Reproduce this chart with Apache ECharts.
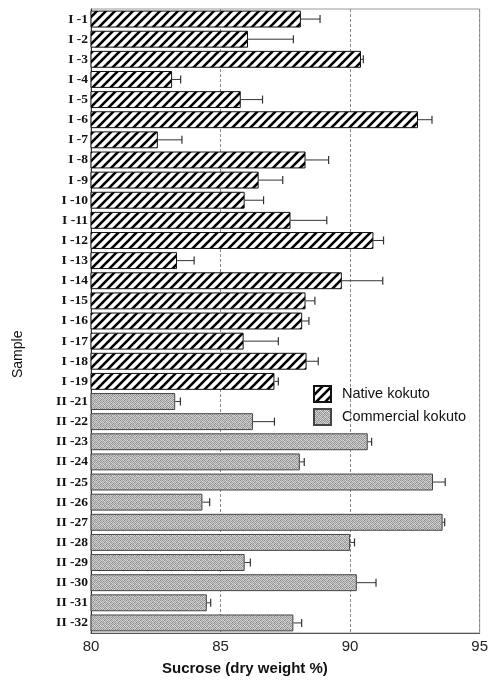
<!DOCTYPE html>
<html>
<head>
<meta charset="utf-8">
<script src="https://cdn.jsdelivr.net/npm/echarts@6/dist/echarts.min.js"></script>
<style>
  html, body { margin: 0; padding: 0; background: #fff; }
  #chart { width: 491px; height: 685px; }
</style>
</head>
<body>
<div id="chart"></div>
<script>
// Sample names: native kokuto (I) and commercial kokuto (II)
var nativeSamples = ['I -1','I -2','I -3','I -4','I -5','I -6','I -7','I -8','I -9','I -10',
  'I -11','I -12','I -13','I -14','I -15','I -16','I -17','I -18','I -19'];
var commercialSamples = ['II -21','II -22','II -23','II -24','II -25','II -26','II -27',
  'II -28','II -29','II -30','II -31','II -32'];

// Sucrose content, dry weight %
var nativeMeans = [88.10, 86.06, 90.42, 83.13, 85.78, 92.62, 82.58, 88.28, 86.47, 85.93,
  87.70, 90.90, 83.32, 89.68, 88.28, 88.15, 85.89, 88.32, 87.08];
var nativeErrors = [0.74, 1.75, 0.09, 0.33, 0.84, 0.54, 0.93, 0.89, 0.93, 0.73,
  1.40, 0.39, 0.66, 1.58, 0.36, 0.26, 1.34, 0.45, 0.15];
var commercialMeans = [83.25, 86.25, 90.68, 88.06, 93.20, 84.30, 93.57, 90.00, 85.93, 90.26, 84.47, 87.81];
var commercialErrors = [0.20, 0.83, 0.15, 0.17, 0.47, 0.28, 0.08, 0.17, 0.22, 0.74, 0.15, 0.32];

var xTicks = [80, 85, 90, 95];

var categories = nativeSamples.concat(commercialSamples);

// Diagonal hatch tile for the native bars
function hatchPattern() {
  var s = 9;
  var c = document.createElement('canvas');
  c.width = s; c.height = s;
  var g = c.getContext('2d');
  g.fillStyle = '#ffffff';
  g.fillRect(0, 0, s, s);
  g.strokeStyle = '#000000';
  g.lineWidth = 2.6;
  g.lineCap = 'square';
  [-s, 0, s].forEach(function (o) {
    g.beginPath();
    g.moveTo(o, s);
    g.lineTo(o + s, 0);
    g.stroke();
  });
  return c;
}

// Fine grey stipple tile for the commercial bars
function stipplePattern() {
  var shades = [
    [140, 205, 165, 215, 150, 195],
    [210, 160, 200, 140, 220, 170],
    [170, 220, 135, 190, 165, 210],
    [200, 150, 215, 170, 205, 140],
    [160, 195, 175, 210, 135, 200],
    [215, 140, 195, 155, 190, 165]
  ];
  var c = document.createElement('canvas');
  c.width = 6; c.height = 6;
  var g = c.getContext('2d');
  for (var y = 0; y < 6; y++) {
    for (var x = 0; x < 6; x++) {
      var v = shades[y][x];
      g.fillStyle = 'rgb(' + v + ',' + v + ',' + v + ')';
      g.fillRect(x, y, 1, 1);
    }
  }
  return c;
}

var hatchFill = { image: hatchPattern(), repeat: 'repeat' };
var stippleFill = { image: stipplePattern(), repeat: 'repeat' };

var nativeBarData = categories.map(function (c, i) {
  return i < nativeMeans.length ? nativeMeans[i] : '-';
});
var commercialBarData = categories.map(function (c, i) {
  var j = i - nativeMeans.length;
  return j >= 0 ? commercialMeans[j] : '-';
});

var errorData = [];
nativeMeans.forEach(function (m, i) { errorData.push([m, i, nativeErrors[i]]); });
commercialMeans.forEach(function (m, i) {
  errorData.push([m, nativeMeans.length + i, commercialErrors[i]]);
});

var chart = echarts.init(document.getElementById('chart'), null, { renderer: 'canvas' });

chart.setOption({
  animation: false,
  backgroundColor: '#ffffff',
  grid: {
    left: 91, right: 9, top: 9, bottom: 52,
    show: true, borderColor: '#9a9a9a', borderWidth: 1, backgroundColor: 'transparent'
  },
  legend: {
    orient: 'vertical',
    left: 308, top: 380,
    icon: 'rect',
    itemWidth: 17, itemHeight: 16, itemGap: 5,
    textStyle: { fontFamily: 'Liberation Sans', fontSize: 14.5, color: '#111', padding: [0, 0, 0, 6] },
    data: ['Native kokuto', 'Commercial kokuto']
  },
  xAxis: {
    type: 'value',
    min: 80, max: 95, interval: 5,
    axisLine: { show: true, lineStyle: { color: '#555', width: 1 } },
    axisTick: { show: false },
    axisLabel: {
      fontFamily: 'Liberation Sans', fontSize: 15, color: '#222', margin: 6,
      formatter: function (v) { return xTicks.indexOf(v) >= 0 ? String(v) : ''; }
    },
    splitLine: { show: true, lineStyle: { color: '#8a8a8a', type: [3, 2], width: 1 } }
  },
  yAxis: {
    type: 'category',
    inverse: true,
    data: categories,
    axisLine: { show: true, lineStyle: { color: '#333', width: 1 } },
    axisTick: { show: false },
    axisLabel: {
      fontFamily: 'Liberation Serif', fontWeight: 'bold', fontSize: 13.5, color: '#111', margin: 3
    }
  },
  graphic: [
    {
      type: 'text', left: 162, top: 661,
      style: { text: 'Sucrose (dry weight %)', font: 'bold 15px "Liberation Sans"', fill: '#111' }
    },
    {
      type: 'text', x: 11, y: 378, rotation: Math.PI / 2,
      style: { text: 'Sample', font: '14px "Liberation Sans"', fill: '#111' }
    }
  ],
  series: [
    {
      name: 'Native kokuto',
      type: 'bar',
      data: nativeBarData,
      barGap: '-100%',
      barCategoryGap: '16%',
      itemStyle: { color: hatchFill, borderColor: '#111', borderWidth: 1 },
      z: 2
    },
    {
      name: 'Commercial kokuto',
      type: 'bar',
      data: commercialBarData,
      barGap: '-100%',
      barCategoryGap: '16%',
      itemStyle: { color: stippleFill, borderColor: '#444', borderWidth: 1 },
      z: 2
    },
    {
      name: 'sd',
      type: 'custom',
      data: errorData,
      encode: { x: 0, y: 1 },
      z: 3,
      renderItem: function (params, api) {
        var m = api.value(0), idx = api.value(1), e = api.value(2);
        var p0 = api.coord([m, idx]);
        var p1 = api.coord([m + e, idx]);
        var h = 4;
        return {
          type: 'group',
          children: [
            { type: 'line', shape: { x1: p0[0], y1: p0[1], x2: p1[0], y2: p1[1] },
              style: { stroke: '#333', lineWidth: 1 } },
            { type: 'line', shape: { x1: p1[0], y1: p1[1] - h, x2: p1[0], y2: p1[1] + h },
              style: { stroke: '#333', lineWidth: 1.2 } }
          ]
        };
      }
    }
  ]
});
</script>
</body>
</html>
